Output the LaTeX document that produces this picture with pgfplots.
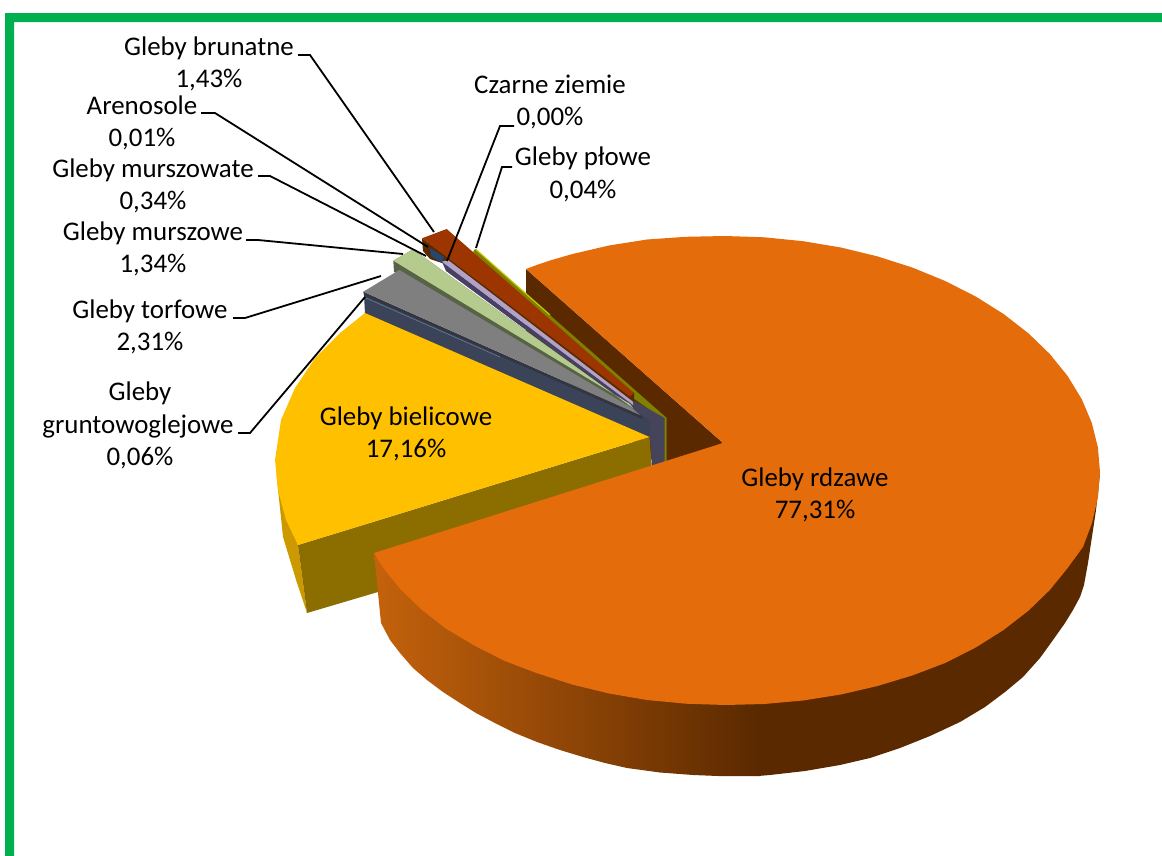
\documentclass[border=0pt]{standalone}
\usepackage{pgfplots}
\pgfplotsset{compat=1.18}
\usepackage{fontspec}
\setmainfont{Carlito}
\definecolor{frameg}{HTML}{00B050}
\definecolor{orangetop}{HTML}{E46C0A}
\definecolor{orangedark}{HTML}{5A2900}
\definecolor{orangelight}{HTML}{C4620C}
\definecolor{yel}{HTML}{FFC000}
\definecolor{yelwall}{HTML}{8B6D00}
\definecolor{yelside}{HTML}{CC9A00}
\definecolor{slate}{HTML}{3A4358}
\definecolor{slatel}{HTML}{66768F}
\definecolor{slateb}{HTML}{45445A}
\definecolor{gr}{HTML}{7F7F7F}
\definecolor{grd}{HTML}{333640}
\definecolor{grn}{HTML}{B5CB8E}
\definecolor{grnd}{HTML}{586345}
\definecolor{lil}{HTML}{B3A2C7}
\definecolor{lild}{HTML}{474062}
\definecolor{red1}{HTML}{9C3500}
\definecolor{oliv}{HTML}{7F7F00}
\definecolor{olivb}{HTML}{C8C800}
\definecolor{blu}{HTML}{24476F}
\begin{document}
\begin{tikzpicture}
\begin{axis}[
  name=a,
  x=1bp,y=1bp,scale only axis,
  xmin=0,xmax=1162,ymin=0,ymax=856,y dir=reverse,
  axis lines=none,clip=false,
  every axis plot/.append style={no markers},
]
% frame
\addplot[fill=frameg,draw=none] coordinates {(5,856)(5,13)(1162,13)(1162,22)(14,22)(14,856)};
% orange wall
\addplot[fill=orangedark,draw=none] coordinates {(526,269)(723,443)(660,467)(526,345)};
% olive
\addplot[fill=oliv,draw=none] coordinates {(475,249)(666.7,418)(666.7,462)(664,463)(664,420)(633,398)(473,252)};
\addplot[olivb,line width=1.2bp] coordinates {(476,249.5)(550,315)};
% blue-grey panel
\addplot[fill=slateb,draw=none] coordinates {(633,400)(664.5,418)(664.5,463)(652,467.5)(650,437)(630,420)};
% brown
\addplot[fill=orangedark,draw=none] coordinates {(422,238.3)(634,393)(634,403)(445,264)(430,259)(423,251)};
\addplot[fill=red1,draw=none] coordinates {(422,238.3)(446.7,229)(634,393)(630,396.7)};
\addplot[fill=blu,draw=none] coordinates {(430,248)(444,257)(442,263)(431,256)};
% lilac
\addplot[fill=lild,draw=none] coordinates {(442,261.7)(633,405)(633,409)(446,271)};
\addplot[fill=lil,draw=none] coordinates {(442,261.7)(448,260)(633,401.7)(633,405)};
% green
\addplot[fill=grnd,draw=none] coordinates {(393.3,260.7)(413,249.3)(633,408)(636,414)(399.3,274)(394,272)};
\addplot[fill=grn,draw=none] coordinates {(393.3,260.7)(413,249.3)(633,408)(630,404)};
% slate
\addplot[fill=slate,draw=none] coordinates {(364,295)(640,415)(650,420)(650,438)(365,314)};
\addplot[fill=grd,draw=none] coordinates {(363.3,291.7)(640,415)(643,417)(642,419)(364,295.5)};
\addplot[slatel,line width=0.7bp] coordinates {(366,298)(500,357)};
% grey
\addplot[fill=gr,draw=none] coordinates {(363.3,291.7)(399.3,270)(632,408)(640,415)};
% yellow
\addplot[fill=yelside,draw=none] coordinates {(276,470)(280,497)(298,545)(307,613)(297,583)(283,537)};
\addplot[fill=yelwall,draw=none] coordinates {(298,545)(649.5,437)(652,470)(378,592)(307,613)};
\addplot[fill=yel,draw=none] coordinates {(649.5,437)(365,313)(340,333)(315,358)(295,388)(281,420)(275,460)(278,490)(286,520)(298,545)};
% orange side
\addplot[left color=orangelight,right color=orangedark,draw=none] coordinates {(374,553)(381,623)(390,640)(400,653)(413,668)(427,680)(443,692)(460,703)(476,713)(493,722)(515,733)(537,742)(560,750)(583,757)(605,763)(627,768)(660,772.5)(693,775)(718,776)(743,776)(760,776)(760,650)(500,600)};
\addplot[fill=orangedark,draw=none] coordinates {(758,776)(770,775)(805,771)(840,765)(870,758)(900,748)(930,736)(960,722)(985,707)(1005,692)(1023,677)(1040,658)(1053,640)(1065,623)(1073,610)(1080,597)(1084,585)(1088,563)(1093,530)(1096,510)(1098,493)(1100,473)(758,600)};
% orange top
\addplot[fill=orangetop,draw=none] coordinates {
(723,443)(526,269)(538,264.5)(550,260.5)(572.5,254)(609,245.5)(647,239.5)(685.8,236.8)(725,236)(764.2,237.3)(803,241.2)(840.9,247.5)
(877.5,256.4)(912.5,267.6)(945.4,281.1)(975.9,296.6)(1003.7,314.1)(1028.4,333.3)(1049.8,354)(1067.6,376)(1081.7,399.1)(1091.8,422.9)
(1097.9,447.3)(1100,472)(1098,497)(1092,523)(1083,547)(1067.6,568)(1049.8,590)(1028.4,610.7)(1003.7,629.9)(975.9,647.4)(945.4,662.9)
(912.5,675.4)(877.5,686)(840.9,694.5)(803,700.5)(764.2,704)(725,705)(685.8,703.7)(647,700)(609.1,693.5)(572.5,684.6)(537.5,673.4)
(504.6,660.9)(474.1,645.4)(446.3,628.9)(421.6,609.7)(400.2,589)(382.4,567)(374,553)};
% leaders
\addplot[black,line width=1.8bp] coordinates {(298,55)(310,55)(434,232)};
\addplot[black,line width=1.8bp] coordinates {(201,113)(215,113)(428,247)};
\addplot[black,line width=1.8bp] coordinates {(258,176)(270,176)(426,256)};
\addplot[black,line width=1.8bp] coordinates {(246,240)(258,240)(403,254)};
\addplot[black,line width=1.8bp] coordinates {(233,318)(245,318)(381,276)};
\addplot[black,line width=1.8bp] coordinates {(238,433)(250,433)(365,297)};
\addplot[black,line width=1.8bp] coordinates {(514,126)(500,126)(447,261)};
\addplot[black,line width=1.8bp] coordinates {(512,167)(502,167)(476,248)};
% labels
\begin{scope}[every node/.style={anchor=base,inner sep=0pt,outer sep=0pt,font=\fontsize{27}{30}\selectfont,text=black}]
\node at (axis cs:209,55) {Gleby brunatne};
\node at (axis cs:209,87) {1,43\%};
\node at (axis cs:142,114) {Arenosole};
\node at (axis cs:142,146) {0,01\%};
\node at (axis cs:153,177) {Gleby murszowate};
\node at (axis cs:153,209) {0,34\%};
\node at (axis cs:153,240) {Gleby murszowe};
\node at (axis cs:153,272) {1,34\%};
\node at (axis cs:150,318) {Gleby torfowe};
\node at (axis cs:150,350) {2,31\%};
\node at (axis cs:140,400) {Gleby};
\node at (axis cs:138,433) {gruntowoglejowe};
\node at (axis cs:140,465) {0,06\%};
\node at (axis cs:550,93) {Czarne ziemie};
\node at (axis cs:550,125) {0,00\%};
\node at (axis cs:583,165) {Gleby płowe};
\node at (axis cs:583,198) {0,04\%};
\node at (axis cs:406,425) {Gleby bielicowe};
\node at (axis cs:406,457) {17,16\%};
\node at (axis cs:815,486) {Gleby rdzawe};
\node at (axis cs:815,518) {77,31\%};
\end{scope}
\end{axis}
\pgfresetboundingbox
\useasboundingbox (a.south west) rectangle (a.north east);
\end{tikzpicture}
\end{document}
